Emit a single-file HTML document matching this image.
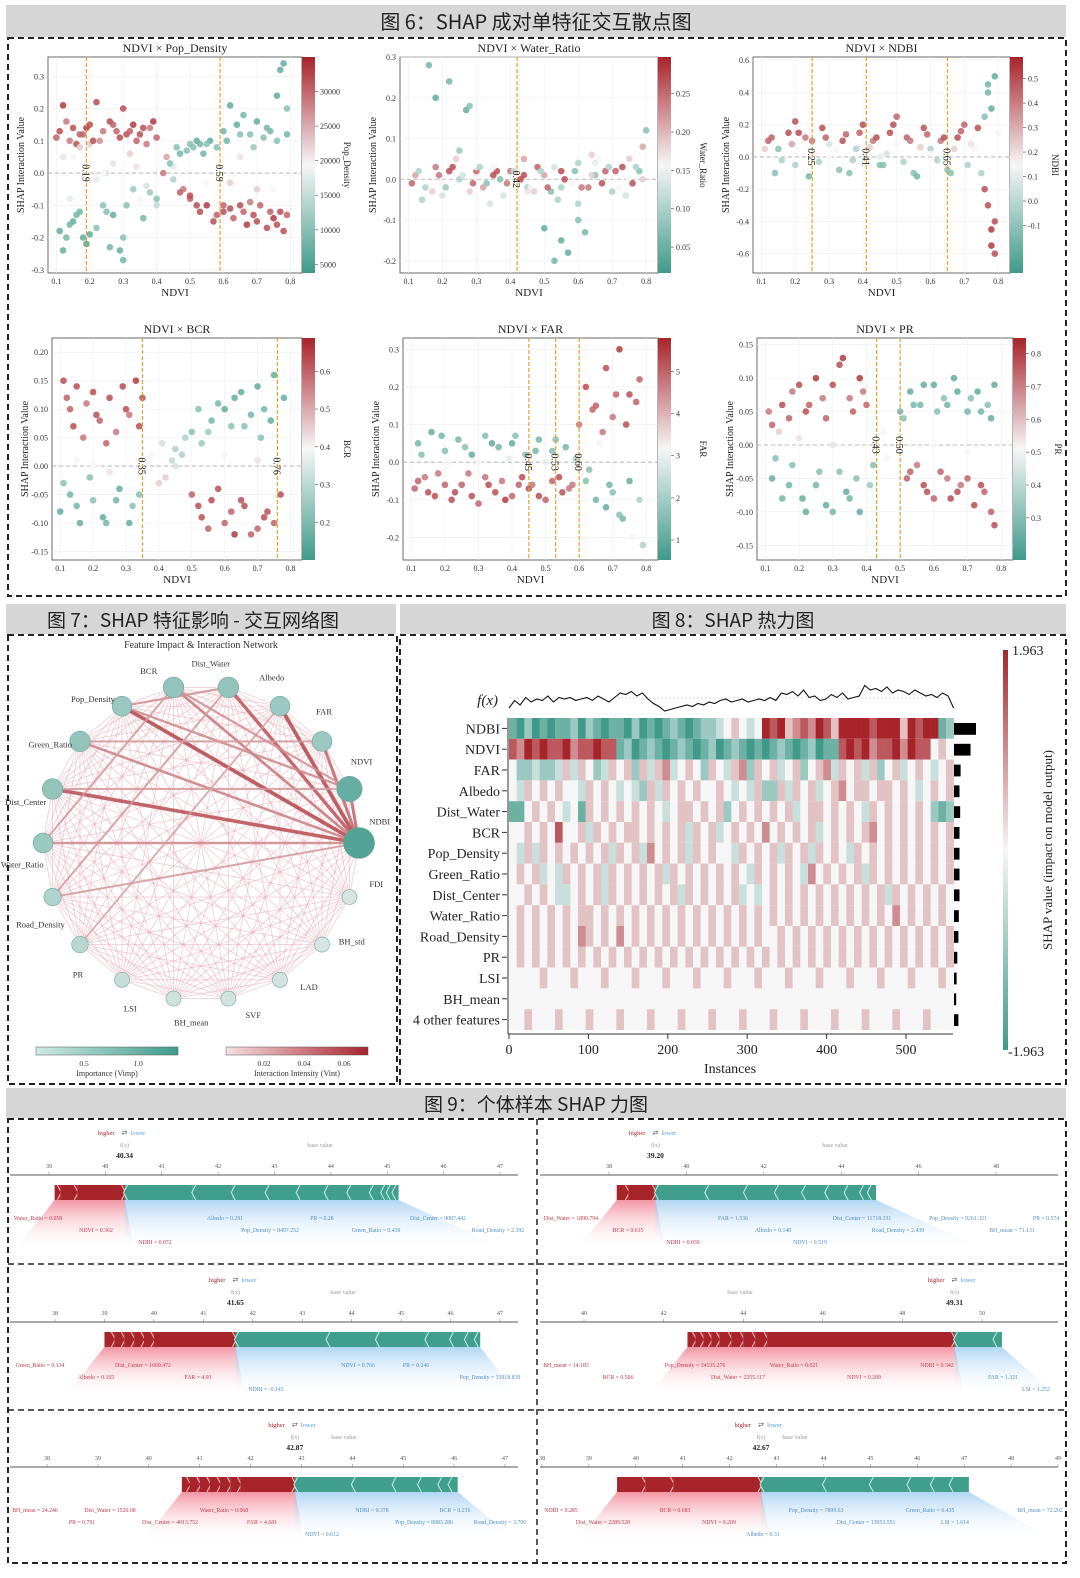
<!DOCTYPE html>
<html><head><meta charset="utf-8">
<style>
html,body{margin:0;padding:0;background:#fff;}
svg{display:block;font-family:"Liberation Serif",serif;}
.cjk{font-family:"Noto Sans CJK SC",sans-serif;}
</style></head>
<body>
<svg id="root" width="1080" height="1578" viewBox="0 0 1080 1578" xmlns="http://www.w3.org/2000/svg">
<defs>
<linearGradient id="cbg" x1="0" y1="1" x2="0" y2="0"><stop offset="0" stop-color="#3f9a8a"/><stop offset="0.5" stop-color="#f6f6f6"/><stop offset="1" stop-color="#a8242b"/></linearGradient>
<linearGradient id="tealLeg" x1="0" x2="1"><stop offset="0" stop-color="#cfe9e3"/><stop offset="1" stop-color="#3f9a8a"/></linearGradient>
<linearGradient id="redLeg" x1="0" x2="1"><stop offset="0" stop-color="#f6dfe2"/><stop offset="1" stop-color="#a8242b"/></linearGradient>
<linearGradient id="fanRed" x1="0" y1="0" x2="0" y2="1"><stop offset="0" stop-color="#f07a8c" stop-opacity="0.8"/><stop offset="1" stop-color="#fff" stop-opacity="0"/></linearGradient>
<linearGradient id="fanBlue" x1="0" y1="0" x2="0" y2="1"><stop offset="0" stop-color="#8ec4ee" stop-opacity="0.7"/><stop offset="1" stop-color="#fff" stop-opacity="0"/></linearGradient>
</defs>
<rect x="6" y="5" width="1060" height="32" fill="#d6d6d6"/>
<text class="cjk" x="536" y="29" font-size="20" text-anchor="middle" fill="#222">图 6：SHAP 成对单特征交互散点图</text>
<rect x="8" y="38" width="1058" height="558" fill="none" stroke="#222" stroke-width="2" stroke-dasharray="6,4"/>
<rect x="6" y="604" width="390" height="30" fill="#d6d6d6"/>
<text class="cjk" x="193" y="627" font-size="19" text-anchor="middle" fill="#222">图 7：SHAP 特征影响 - 交互网络图</text>
<rect x="8" y="635" width="389" height="449" fill="none" stroke="#222" stroke-width="2" stroke-dasharray="6,4"/>
<rect x="400" y="604" width="666" height="30" fill="#d6d6d6"/>
<text class="cjk" x="733" y="627" font-size="19" text-anchor="middle" fill="#222">图 8：SHAP 热力图</text>
<rect x="400" y="635" width="666" height="449" fill="none" stroke="#222" stroke-width="2" stroke-dasharray="6,4"/>
<rect x="6" y="1088" width="1060" height="30" fill="#d6d6d6"/>
<text class="cjk" x="536" y="1111" font-size="19" text-anchor="middle" fill="#222">图 9：个体样本 SHAP 力图</text>
<rect x="8" y="1119" width="1058" height="444" fill="none" stroke="#222" stroke-width="2" stroke-dasharray="6,4"/>
<line x1="537" y1="1119" x2="537" y2="1563" stroke="#222" stroke-width="1.5" stroke-dasharray="6,4"/>
<line x1="8" y1="1264" x2="1066" y2="1264" stroke="#222" stroke-width="1.5" stroke-dasharray="6,4"/>
<line x1="8" y1="1410" x2="1066" y2="1410" stroke="#222" stroke-width="1.5" stroke-dasharray="6,4"/>
<g id="g6"></g><g id="g7"></g><g id="g8"></g><g id="g9"></g>
</svg>
<script>
// ===== Fig 6 data =====
const p1x=[.11,.12,.14,.15,.17,.19,.2,.22,.23,.26,.28,.3,.31,.33,.34,.36,.37,.39,.11,.12,.13,.15,.17,.18,.19,.22,.24,.27,.29,.3,.33,.36,.42,.43,.45,.46,.48,.5,.52,.54,.56,.6,.62,.64,.66,.68,.7,.72,.74,.76,.77,.78,.79,.5,.53,.55,.57,.6,.63,.65,.67,.69,.71,.73,.75,.77,.78,.15,.25,.35,.45,.55,.65,.75,.2,.4,
 .1,.13,.16,.18,.21,.24,.27,.29,.32,.35,.38,.4,.12,.17,.22,.27,.32,.37,.14,.24,.34,.14,.2,.25,.31,.38,.4,.58,.61,.65,.69,.73,.76,.79,.55,.52,.58,.62,.66,.7,.74,.76,.79,.68,.6,.44,.47,.49,.51,.53,.47,.5,.7,.62,.3,.26,.16];
const p1y=[.13,.21,.1,.14,.12,.14,.15,.22,.1,.16,.13,.2,.12,.15,.1,.14,.09,.16,-.18,-.24,-.2,-.15,-.12,-.2,-.22,-.17,-.1,-.13,-.24,-.27,-.05,-.14,0,.05,-.02,.08,-.05,.09,.1,.06,.1,.13,.21,.15,.18,.12,.16,.11,.13,.24,.32,.34,.2,-.08,-.12,-.1,-.15,-.12,-.14,-.1,-.16,-.13,-.1,-.17,-.14,-.12,-.18,.05,0,-.08,.02,-.03,.05,-.05,.09,-.1,
 .11,.16,.09,.12,.1,.13,.15,.11,.13,.12,.14,.11,.05,.08,-.02,.03,.06,-.04,-.08,0,.02,-.16,-.19,-.12,-.1,-.06,-.08,.08,.1,.12,.08,.14,.1,.12,.09,-.1,-.13,-.11,-.12,-.15,-.12,-.16,-.13,-.09,-.1,.03,.06,.07,.08,.09,-.06,-.07,-.05,-.03,-.2,-.23,-.13];
const p1c=[.9,.95,.8,.9,.85,.95,.9,.9,.75,.9,.85,.9,.9,.95,.85,.9,.8,.95,.1,.1,.15,.1,.15,.1,.05,.2,.2,.1,.1,.15,.25,.15,.8,.7,.3,.2,.8,.2,.1,.15,.1,.15,.1,.1,.15,.2,.1,.2,.15,.1,.1,.1,.2,.85,.9,.95,.9,.9,.85,.9,.95,.9,.85,.9,.95,.9,.9,.5,.55,.5,.45,.5,.55,.5,.6,.35,
 .85,.8,.9,.85,.9,.8,.85,.9,.85,.9,.8,.85,.55,.6,.45,.55,.6,.4,.45,.5,.55,.15,.1,.2,.2,.25,.2,.2,.15,.2,.25,.15,.2,.15,.2,.9,.85,.9,.85,.9,.85,.9,.85,.8,.85,.2,.15,.2,.2,.15,.85,.9,.6,.6,.2,.15,.15];
const p2x=[.12,.15,.18,.2,.22,.25,.28,.3,.33,.35,.38,.4,.43,.45,.48,.5,.52,.55,.58,.6,.63,.65,.68,.7,.73,.75,.78,.8,.16,.18,.22,.27,.28,.5,.53,.55,.57,.6,.62,.14,.24,.34,.44,.54,.64,.74,.3,.46,.66,.79,
 .11,.13,.17,.19,.21,.23,.26,.29,.31,.32,.36,.37,.39,.41,.44,.47,.49,.51,.53,.56,.59,.61,.64,.67,.69,.71,.72,.76,.77,.79,.2,.35,.45,.55,.65,.75,.25,.6];
const p2y=[.01,-.02,.03,-.01,.02,0,-.03,.02,-.01,.01,-.04,.02,0,-.02,.03,.01,-.03,.02,-.01,.04,-.02,.01,.02,-.03,.03,0,.02,.12,.28,.2,.24,.17,.18,-.12,-.2,-.15,-.18,-.1,-.13,-.05,.05,-.06,.05,-.05,.06,-.04,.03,-.02,.05,.08,
 -.01,.02,-.03,.01,-.02,.03,.01,-.01,.03,-.02,.02,0,-.01,.02,.01,-.03,.02,-.02,.03,0,.02,-.02,.01,-.01,.03,.02,-.02,-.01,.03,.0,-.04,.03,-.03,-.02,.04,.05,.07,-.06];
const p2c=[.7,.3,.8,.5,.9,.3,.6,.85,.2,.9,.4,.8,.9,.3,.85,.7,.2,.9,.5,.3,.8,.2,.85,.3,.9,.5,.2,.2,.15,.1,.15,.1,.2,.1,.15,.1,.1,.2,.15,.3,.6,.4,.7,.3,.6,.4,.5,.5,.5,.7,
 .85,.3,.6,.8,.25,.9,.4,.85,.3,.7,.9,.2,.8,.35,.9,.6,.3,.85,.4,.9,.2,.8,.6,.9,.3,.85,.5,.9,.3,.6,.4,.5,.55,.3,.45,.6,.25,.3];
const p3x=[.12,.15,.18,.2,.23,.26,.28,.3,.33,.35,.38,.4,.43,.45,.48,.5,.53,.55,.58,.6,.63,.65,.68,.7,.73,.75,.77,.78,.79,.78,.77,.79,.76,.8,.14,.24,.36,.46,.56,.66,.2,.5,
 .11,.13,.16,.19,.21,.25,.27,.29,.32,.34,.37,.39,.42,.44,.47,.49,.52,.54,.57,.59,.62,.64,.67,.69,.71,.74,.76,.78,.77,.79,.3,.45,.6,.72];
const p3y=[.1,.05,.15,-.05,.12,.02,.18,.08,-.08,.14,.05,.2,.1,-.05,.15,.08,.12,-.1,.18,.05,.1,-.08,.12,.2,.05,-.1,-.3,-.45,-.6,.3,.4,.5,.25,.15,-.1,-.12,-.1,-.05,-.12,-.1,.22,.25,
 .05,.12,-.02,.08,.15,.1,-.03,.12,.04,.1,-.02,.15,.06,.12,.02,.2,-.03,.1,.06,.14,-.02,.12,.05,.16,-.05,.18,-.2,-.55,.45,-.4,.0,.0,.02,.08];
const p3c=[.85,.2,.9,.3,.8,.5,.9,.4,.2,.85,.3,.9,.8,.2,.9,.5,.85,.2,.9,.3,.8,.2,.9,.85,.5,.3,.9,.95,.9,.1,.15,.1,.2,.5,.2,.15,.2,.2,.15,.2,.9,.85,
 .6,.85,.3,.7,.9,.8,.3,.85,.5,.9,.3,.85,.6,.9,.4,.9,.3,.8,.6,.85,.3,.9,.6,.85,.3,.9,.9,.95,.15,.9,.5,.45,.5,.55];
const p4x=[.11,.13,.15,.17,.2,.22,.25,.27,.3,.33,.35,.1,.13,.16,.2,.24,.28,.32,.38,.42,.45,.48,.5,.53,.56,.6,.63,.66,.7,.72,.75,.78,.5,.53,.56,.6,.63,.66,.7,.73,.77,.4,.45,.2,.6,.7,
 .12,.14,.18,.21,.24,.29,.31,.34,.11,.15,.19,.23,.27,.31,.34,.37,.41,.44,.47,.52,.55,.58,.62,.65,.68,.71,.74,.52,.55,.58,.62,.65,.68,.72,.75,.15,.25];
const p4y=[.15,.1,.14,.05,.13,.08,.12,.06,.1,.15,.12,-.08,-.05,-.1,-.06,-.1,-.04,-.07,.02,-.02,.03,.05,.06,.04,.08,.1,.12,.07,.14,.1,.16,.12,-.05,-.09,-.06,-.1,-.12,-.07,-.11,-.08,-.05,-.03,0,0,.02,.01,
 .12,.07,.11,.09,.04,.14,.09,.07,-.03,-.07,-.02,-.09,-.06,-.1,-.05,.01,.04,.01,.02,.1,.06,.11,.07,.13,.09,.05,.08,-.07,-.11,-.04,-.08,-.06,-.12,-.09,-.1,.01,-.01];
const p4c=[.9,.85,.9,.8,.9,.85,.9,.8,.9,.95,.9,.1,.15,.1,.2,.15,.1,.2,.5,.6,.3,.3,.2,.25,.15,.1,.1,.2,.1,.15,.1,.1,.85,.9,.9,.85,.95,.9,.85,.9,.9,.6,.4,.5,.5,.55,
 .85,.9,.8,.9,.85,.9,.8,.9,.2,.15,.2,.1,.15,.1,.2,.5,.4,.35,.3,.2,.25,.15,.2,.1,.15,.2,.1,.9,.85,.9,.85,.9,.85,.9,.85,.5,.55];
const p5x=[.12,.15,.18,.22,.25,.28,.32,.35,.38,.42,.45,.48,.52,.55,.58,.12,.16,.2,.24,.28,.32,.36,.4,.44,.48,.52,.56,.6,.62,.65,.68,.7,.72,.75,.78,.62,.65,.68,.7,.73,.76,.78,.3,.5,.66,
 .11,.14,.17,.2,.23,.27,.3,.33,.37,.4,.43,.46,.5,.54,.57,.13,.19,.26,.34,.41,.47,.53,.59,.64,.67,.71,.74,.77,.63,.69,.72,.75,.79,.21,.39];
const p5y=[-.05,-.08,-.03,-.1,-.06,-.09,-.04,-.08,-.1,-.06,-.07,-.09,-.05,-.08,-.06,.05,.08,.03,.06,.02,.07,.04,.05,.02,.06,.03,.04,.1,.2,.15,.25,.12,.3,.18,.22,-.05,-.1,-.12,-.08,-.15,-.2,-.1,0,0,.05,
 -.07,-.04,-.09,-.06,-.08,-.03,-.11,-.06,-.05,-.09,-.04,-.06,-.1,-.04,-.07,.02,.07,.04,.05,.07,.03,.06,.01,.14,.08,.18,.1,.16,-.02,-.06,-.14,-.05,-.22,.0,.01];
const p5c=[.85,.9,.8,.9,.85,.9,.8,.9,.95,.85,.9,.9,.85,.9,.8,.15,.1,.2,.15,.1,.2,.15,.1,.2,.15,.2,.15,.8,.9,.85,.9,.8,.95,.9,.85,.2,.15,.1,.2,.15,.5,.3,.5,.45,.5,
 .85,.8,.9,.85,.9,.8,.85,.9,.8,.85,.9,.8,.85,.9,.8,.2,.15,.2,.1,.2,.15,.2,.3,.85,.8,.85,.9,.85,.2,.15,.2,.1,.3,.5,.45];
const p6x=[.12,.15,.18,.22,.25,.28,.32,.35,.38,.4,.12,.15,.18,.22,.25,.28,.32,.35,.38,.42,.5,.53,.56,.6,.63,.66,.7,.73,.76,.78,.52,.55,.58,.62,.65,.68,.72,.75,.78,.45,.3,.6,
 .11,.14,.17,.2,.23,.27,.3,.33,.36,.39,.13,.17,.21,.26,.3,.34,.37,.41,.51,.54,.57,.61,.64,.67,.71,.74,.77,.53,.57,.6,.64,.67,.7,.74,.77,.46,.2,.7];
const p6y=[.03,.06,.08,.05,.1,.04,.12,.07,.1,.06,-.05,-.08,-.03,-.1,-.06,-.09,-.04,-.08,-.1,-.03,.05,.08,.06,.09,.07,.1,.05,.08,.06,.09,-.05,-.03,-.07,-.04,-.08,-.06,-.09,-.07,-.12,.02,0,0,
 .05,.02,.04,.09,.06,.07,.09,.13,.05,.08,-.02,-.06,-.08,-.04,-.1,-.07,-.05,-.06,.04,.06,.09,.05,.06,.08,.07,.05,.04,-.04,-.06,-.08,-.05,-.07,-.05,-.06,-.1,-.02,.01,-.01];
const p6c=[.85,.9,.8,.9,.95,.85,.9,.8,.95,.85,.1,.15,.2,.1,.15,.1,.2,.15,.1,.2,.15,.1,.15,.1,.2,.1,.15,.1,.2,.1,.85,.8,.9,.85,.9,.8,.9,.85,.9,.5,.55,.5,
 .8,.6,.85,.9,.85,.8,.9,.95,.85,.8,.2,.15,.1,.2,.15,.1,.2,.25,.2,.15,.1,.2,.15,.1,.2,.15,.1,.85,.9,.85,.8,.9,.85,.9,.85,.5,.55,.5];

// ===== Fig 7 data =====
const netNodes=["BCR","Dist_Water","Albedo","FAR","NDVI","NDBI","FDI","BH_std","LAD","SVF","BH_mean","LSI","PR","Road_Density","Water_Ratio","Dist_Center","Green_Ratio","Pop_Density"];
const netImp=[0.55,0.55,0.5,0.5,0.85,1.2,0.1,0.1,0.12,0.12,0.15,0.2,0.3,0.35,0.5,0.55,0.55,0.5];
const strongEdges=[["NDBI","Pop_Density",0.8],["NDBI","Dist_Center",0.75],["NDBI","Albedo",0.8],["NDBI","FAR",0.6],["NDBI","Dist_Water",0.7],["NDBI","NDVI",0.6],["NDBI","BCR",0.5],["NDBI","Green_Ratio",0.45],["NDBI","Water_Ratio",0.4],["NDVI","Pop_Density",0.4],["NDVI","Dist_Center",0.3],["Pop_Density","Dist_Water",0.35],["BCR","Water_Ratio",0.3],["Dist_Water","Road_Density",0.3],["Albedo","PR",0.25],["NDBI","Road_Density",0.3],["FAR","Green_Ratio",0.3],["NDVI","BCR",0.35]];

// ===== Fig 8 data =====
const hmFeatures=["NDBI","NDVI","FAR","Albedo","Dist_Water","BCR","Pop_Density","Green_Ratio","Dist_Center","Water_Ratio","Road_Density","PR","LSI","BH_mean","4 other features"];
const hmRows=[
"1020101120210110201012101223454348785676875888878885878812",
"7687877867787712012101210120121010121012011787867786877454",
"4223223535423545253563454254356254534524563545352453454345",
"4354545443545434325354545445434352253545345645545545434545",
"1145454341545454545434554545245454545345545454354545454212",
"4454547445354545545454535453454546454545345454564545454545",
"4353545454545354536454535454435454535453545435454545454545",
"4545343545453545454535454545454354545436454545354545454545",
"4454543345453545454545354545453434545454545454545354545454",
"4545454545545454545454545454545454545454545454545464545454",
"4545454546545464545454545454545454454545454545454545454545",
"4545454545454545454545454545454545454545454545454545454545",
"4444544454445444544454445444544454445444544454445444544454",
"4444444444444444444444444444444444444444444444444444444444",
"4454445444544454445444544454445444544454445444544454445444"];
const hmImportance=[1,0.75,0.3,0.25,0.28,0.25,0.25,0.25,0.25,0.22,0.2,0.15,0.12,0.1,0.2];
const fxVals=[0.2,0.45,0.3,0.55,0.4,0.5,0.45,0.6,0.4,0.55,0.5,0.55,0.45,0.5,0.55,0.45,0.6,0.5,0.4,0.55,0.7,0.65,0.75,0.6,0.7,0.5,0.35,0.25,0.1,0.15,0.2,0.25,0.3,0.25,0.35,0.3,0.4,0.35,0.45,0.5,0.4,0.45,0.5,0.4,0.45,0.5,0.45,0.55,0.45,0.7,0.65,0.75,0.6,0.8,0.55,0.6,0.45,0.5,0.65,0.55,0.7,0.5,0.55,0.6,0.95,0.8,0.85,0.75,0.9,0.7,0.8,0.75,0.65,0.8,0.7,0.6,0.65,0.55,0.7,0.6,0.2];
const hmTicks=[0,100,200,300,400,500];

// ===== Fig 9 data =====
const fpTicks1=[39,40,41,42,43,44,45,46,47], fpRed1=[39.1,39.2,39.5,40.34], fpTeal1=[40.34,41.55,42.25,42.85,43.4,43.9,44.3,44.7,44.9,45.0,45.1,45.2], fpVal1=40.34;
const fpTicks2=[38,40,42,44,46,48], fpRed2=[38.2,38.5,39.2], fpTeal2=[39.2,40.5,41.5,42.3,43,43.6,44.1,44.5,44.7,44.9], fpVal2=39.20;
const fpTicks3=[38,39,40,41,42,43,44,45,46,47], fpRed3=[39,39.2,39.4,39.6,39.8,40,41.65], fpTeal3=[41.65,43.5,44.5,45.5,46,46.3,46.5,46.6], fpVal3=41.65;
const fpTicks4=[40,42,44,46,48,50], fpRed4=[42.6,42.8,43,43.2,43.4,43.7,44,44.3,44.6,49.31], fpTeal4=[49.31,50.3,50.5], fpVal4=49.31;
const fpTicks5=[38,39,40,41,42,43,44,45,46,47], fpRed5=[40.65,40.8,41,41.2,41.4,41.6,41.8,42.87], fpTeal5=[42.87,44,44.8,45.3,45.7,45.9,46.07], fpVal5=42.87;
const fpTicks6=[38,39,40,41,42,43,44,45,46,47,48,49], fpRed6=[39.6,40.2,40.8,42.67], fpTeal6=[42.67,44,45,45.8,46.3,46.7,47.1], fpVal6=42.67;

const NS="http://www.w3.org/2000/svg";
function mk(parent,tag,attrs,txt){const e=document.createElementNS(NS,tag);for(const k in attrs)e.setAttribute(k,attrs[k]);if(txt!==undefined)e.textContent=txt;parent.appendChild(e);return e;}
function lerp(a,b,t){return a+(b-a)*t;}
function divColor(t){
  const T=[63,154,138],W=[246,246,246],R=[168,36,43];
  let a,b,u; if(t<0.5){a=T;b=W;u=t/0.5;}else{a=W;b=R;u=(t-0.5)/0.5;}
  return `rgb(${Math.round(lerp(a[0],b[0],u))},${Math.round(lerp(a[1],b[1],u))},${Math.round(lerp(a[2],b[2],u))})`;
}

// ===== Fig 6 =====
const g6=document.getElementById('g6');
function scatter(o){
  const g=mk(g6,'g',{});
  
  
  const X=v=>o.ox+(v-0.075)/(0.835-0.075)*o.w;
  const Y=v=>o.oy+o.h-(v-o.yd[0])/(o.yd[1]-o.yd[0])*o.h;
  mk(g,'rect',{x:o.ox,y:o.oy,width:o.w,height:o.h,fill:'#fff',stroke:'#444','stroke-width':0.8});
  [.1,.2,.3,.4,.5,.6,.7,.8].forEach(v=>{mk(g,'line',{x1:X(v),x2:X(v),y1:o.oy,y2:o.oy+o.h,stroke:'#eee','stroke-width':0.6});
    const t=mk(g,'text',{x:X(v),y:o.oy+o.h+11,'font-size':8,'text-anchor':'middle',fill:'#333'},String(v));
    });
  o.yt.forEach(v=>{mk(g,'line',{x1:o.ox,x2:o.ox+o.w,y1:Y(v),y2:Y(v),stroke:'#eee','stroke-width':0.6});
    const t=mk(g,'text',{x:o.ox-4,y:Y(v)+3,'font-size':8,'text-anchor':'end',fill:'#333'},o.ytl(v));
    });
  mk(g,'line',{x1:o.ox,x2:o.ox+o.w,y1:Y(0),y2:Y(0),stroke:'#aaa','stroke-width':0.8,'stroke-dasharray':'4,3'});
  o.px.forEach((xv,i)=>{const c=mk(g,'circle',{cx:X(xv),cy:Y(o.py[i]),r:3.3,fill:divColor(o.pc[i]),'fill-opacity':0.85});
    });
  o.vl.forEach(v=>{const l=mk(g,'line',{x1:X(v),x2:X(v),y1:o.oy,y2:o.oy+o.h,stroke:'#e3a12f','stroke-width':1.2,'stroke-dasharray':'4,2'});
    
    const t=mk(g,'text',{x:0,y:0,'font-size':10,'text-anchor':'middle',fill:'#222',transform:`translate(${X(v)-4},${Y(0)}) rotate(90)`},v.toFixed(2));
    });
  const tt=mk(g,'text',{x:o.ox+o.w/2,y:o.oy-5,'font-size':12,'text-anchor':'middle',fill:'#222'},o.title);
  
  const xl=mk(g,'text',{x:o.ox+o.w/2,y:o.oy+o.h+23,'font-size':11,'text-anchor':'middle',fill:'#222'},'NDVI');
  
  const yl=mk(g,'text',{x:0,y:0,'font-size':10,'text-anchor':'middle',fill:'#222',transform:`translate(${o.ox-24},${o.oy+o.h/2}) rotate(-90)`},'SHAP Interaction Value');
  
  const cb=mk(g,'rect',{x:o.ox+o.w,y:o.oy,width:13,height:o.h,fill:'url(#cbg)'});
  
  o.cbt.forEach((lab,i)=>{const yy=o.oy+o.h-(o.cbp[i])*o.h;
    mk(g,'line',{x1:o.ox+o.w+13,x2:o.ox+o.w+16,y1:yy,y2:yy,stroke:'#444','stroke-width':0.6});
    const t=mk(g,'text',{x:o.ox+o.w+18,y:yy+3,'font-size':8,fill:'#333'},lab);
    });
  const cl=mk(g,'text',{x:0,y:0,'font-size':9,'text-anchor':'middle',fill:'#222',transform:`translate(${o.ox+o.w+42},${o.oy+o.h/2}) rotate(90)`},o.cbl);
  
}
const even=(n,a,b)=>Array.from({length:n},(_,i)=>a+(b-a)*i/(n-1));
scatter({key:'pop-density',title:'NDVI × Pop_Density',ox:48,oy:57,w:254,h:216,yd:[-0.31,0.36],yt:[-0.3,-0.2,-0.1,0,0.1,0.2,0.3],ytl:v=>v.toFixed(1),px:p1x,py:p1y,pc:p1c,vl:[0.19,0.59],cbt:['5000','10000','15000','20000','25000','30000'],cbp:even(6,0.04,0.84),cbl:'Pop_Density'});
scatter({key:'water-ratio',title:'NDVI × Water_Ratio',ox:400,oy:57,w:258,h:216,yd:[-0.23,0.3],yt:[-0.2,-0.1,0,0.1,0.2,0.3],ytl:v=>v.toFixed(1),px:p2x,py:p2y,pc:p2c,vl:[0.42],cbt:['0.05','0.10','0.15','0.20','0.25'],cbp:even(5,0.12,0.83),cbl:'Water_Ratio'});
scatter({key:'ndbi',title:'NDVI × NDBI',ox:753,oy:57,w:257,h:216,yd:[-0.72,0.62],yt:[-0.6,-0.4,-0.2,0,0.2,0.4,0.6],ytl:v=>v.toFixed(1),px:p3x,py:p3y,pc:p3c,vl:[0.25,0.41,0.65],cbt:['-0.1','0.0','0.1','0.2','0.3','0.4','0.5'],cbp:even(7,0.22,0.9),cbl:'NDBI'});
scatter({key:'bcr',title:'NDVI × BCR',ox:52,oy:338,w:250,h:222,yd:[-0.165,0.225],yt:[-0.15,-0.1,-0.05,0,0.05,0.1,0.15,0.2],ytl:v=>v.toFixed(2),px:p4x,py:p4y,pc:p4c,vl:[0.35,0.76],cbt:['0.2','0.3','0.4','0.5','0.6'],cbp:even(5,0.17,0.85),cbl:'BCR'});
scatter({key:'far',title:'NDVI × FAR',ox:403,oy:338,w:255,h:222,yd:[-0.26,0.33],yt:[-0.2,-0.1,0,0.1,0.2,0.3],ytl:v=>v.toFixed(1),px:p5x,py:p5y,pc:p5c,vl:[0.45,0.53,0.60],cbt:['1','2','3','4','5'],cbp:even(5,0.09,0.85),cbl:'FAR'});
scatter({key:'pr',title:'NDVI × PR',ox:757,oy:338,w:256,h:222,yd:[-0.172,0.16],yt:[-0.15,-0.1,-0.05,0,0.05,0.1,0.15],ytl:v=>v.toFixed(2),px:p6x,py:p6y,pc:p6c,vl:[0.43,0.50],cbt:['0.3','0.4','0.5','0.6','0.7','0.8'],cbp:even(6,0.19,0.93),cbl:'PR'});

// ===== Fig 7 network =====
const g7=document.getElementById('g7');
const cx=201,cy=843,R=158;
const pos={};
netNodes.forEach((n,i)=>{const a=(-100+20*i)*Math.PI/180;pos[n]=[cx+R*Math.cos(a),cy+R*Math.sin(a),a];});
const nt=mk(g7,'text',{x:201,y:648,'font-size':10,'text-anchor':'middle',fill:'#333'},'Feature Impact & Interaction Network');

for(let i=0;i<netNodes.length;i++)for(let j=i+1;j<netNodes.length;j++){
  const a=pos[netNodes[i]],b=pos[netNodes[j]];
  const l=mk(g7,'line',{x1:a[0],y1:a[1],x2:b[0],y2:b[1],stroke:'#e6aab2','stroke-width':0.9,'stroke-opacity':0.55});
  }
strongEdges.forEach(e=>{const a=pos[e[0]],b=pos[e[1]];
  const l=mk(g7,'line',{x1:a[0],y1:a[1],x2:b[0],y2:b[1],stroke:divColor(0.6+0.4*e[2]),'stroke-width':1+3.5*e[2],'stroke-opacity':0.85});
  });
netNodes.forEach((n,i)=>{const p=pos[n],imp=netImp[i];
  const c=mk(g7,'circle',{cx:p[0],cy:p[1],r:6+8*Math.max(0,imp-0.2)+1.5,fill:divColor(0.45-0.4*Math.min(imp,1)),stroke:'#6aa99b','stroke-width':0.6});
  
  const lx=cx+(R+22)*Math.cos(p[2]-0.12),ly=cy+(R+22)*Math.sin(p[2]-0.12);
  const t=mk(g7,'text',{x:lx,y:ly+3,'font-size':8.5,'text-anchor':'middle',fill:'#333'},n);
  });
[[36,'url(#tealLeg)',['0.5','1.0'],[84,138],'Importance (Vimp)','importance-legend'],[226,'url(#redLeg)',['0.02','0.04','0.06'],[264,304,344],'Interaction Intensity (Vint)','intensity-legend']].forEach(L=>{
  const r=mk(g7,'rect',{x:L[0],y:1047,width:142,height:8,fill:L[1],stroke:'#555','stroke-width':0.5});
  
  L[2].forEach((s,k)=>mk(g7,'text',{x:L[3][k],y:1066,'font-size':7.5,'text-anchor':'middle',fill:'#333'},s));
  mk(g7,'text',{x:L[0]+71,y:1076,'font-size':8,'text-anchor':'middle',fill:'#333'},L[4]);});

// ===== Fig 8 heatmap =====
const g8=document.getElementById('g8');
const hx0=509,hxPer=0.794,hy0=718,rowH=20.8,N=560;
const HX=v=>hx0+v*hxPer;
hmRows.forEach((s,r)=>{const seg=N/s.length;
  for(let k=0;k<s.length;k++){const d=+s[k];
    const rc=mk(g8,'rect',{x:HX(k*seg),y:hy0+r*rowH,width:seg*hxPer+0.3,height:rowH,fill:divColor(d/8)});
    }
  const t=mk(g8,'text',{x:500,y:hy0+r*rowH+rowH/2+5,'font-size':14,'text-anchor':'end',fill:'#222'},hmFeatures[r]);
  
  mk(g8,'line',{x1:502,x2:507,y1:hy0+r*rowH+rowH/2,y2:hy0+r*rowH+rowH/2,stroke:'#333'});
  const b=mk(g8,'rect',{x:954,y:hy0+r*rowH+5,width:22*hmImportance[r],height:rowH-9,fill:'#000'});
  });
mk(g8,'line',{x1:508,x2:508,y1:hy0,y2:hy0+15*rowH+4,stroke:'#333'});
mk(g8,'line',{x1:508,x2:953,y1:hy0+15*rowH+4,y2:hy0+15*rowH+4,stroke:'#333'});
hmTicks.forEach(v=>{mk(g8,'line',{x1:HX(v),x2:HX(v),y1:hy0+15*rowH+4,y2:hy0+15*rowH+9,stroke:'#333'});
  const t=mk(g8,'text',{x:HX(v),y:1054,'font-size':14,'text-anchor':'middle',fill:'#222'},String(v));
  });
const it=mk(g8,'text',{x:730,y:1073,'font-size':14,'text-anchor':'middle',fill:'#222'},'Instances');

mk(g8,'line',{x1:509,x2:953,y1:698,y2:698,stroke:'#ccc','stroke-width':0.8,'stroke-dasharray':'2,2'});
let dstr='';fxVals.forEach((v,i)=>{const x=HX(i*N/(fxVals.length-1)),y=714-v*30;dstr+=(i?'L':'M')+x.toFixed(1)+','+y.toFixed(1);});
const fl=mk(g8,'path',{d:dstr,fill:'none',stroke:'#111','stroke-width':1.1});

const fxl=mk(g8,'text',{x:498,y:705,'font-size':15,'text-anchor':'end','font-style':'italic',fill:'#222'},'f(x)');

const hcb=mk(g8,'rect',{x:1003,y:650,width:5,height:400,fill:'url(#cbg)'});

mk(g8,'text',{x:1012,y:655,'font-size':14,fill:'#222'},'1.963');
mk(g8,'text',{x:1008,y:1056,'font-size':14,fill:'#222'},'-1.963');
const ct=mk(g8,'text',{x:0,y:0,'font-size':13,'text-anchor':'middle',fill:'#222',transform:'translate(1052,850) rotate(-90)'},'SHAP value (impact on model output)');


// ===== Fig 9 force plots =====
const g9=document.getElementById('g9');
function force(o){
  const g=mk(g9,'g',{});
  
  
  const X=v=>o.x0+(v-o.ticks[0])/(o.ticks[o.ticks.length-1]-o.ticks[0])*(o.x1-o.x0);
  mk(g,'line',{x1:o.ax0,x2:o.ax1,y1:o.ay,y2:o.ay,stroke:'#555','stroke-width':1});
  o.ticks.forEach(v=>{mk(g,'line',{x1:X(v),x2:X(v),y1:o.ay-3,y2:o.ay,stroke:'#777','stroke-width':0.5});
    mk(g,'text',{x:X(v),y:o.ay-7,'font-size':6,'text-anchor':'middle',fill:'#555'},String(v));});
  const by=o.ay+10,bh=15;
  const rL=X(o.red[0]),tR=X(o.teal[o.teal.length-1]),fx=X(o.val);
  mk(g,'polygon',{points:`${rL},${by+bh} ${fx},${by+bh} ${fx+10},${by+bh+50} ${Math.max(o.ax0,rL-40)},${by+bh+50}`,fill:'url(#fanRed)'});
  mk(g,'polygon',{points:`${fx},${by+bh} ${tR},${by+bh} ${Math.min(o.ax1,tR+110)},${by+bh+50} ${fx},${by+bh+50}`,fill:'url(#fanBlue)'});
  for(let i=0;i<o.red.length-1;i++){const r=mk(g,'rect',{x:X(o.red[i]),y:by,width:X(o.red[i+1])-X(o.red[i]),height:bh,fill:'#a8242b'});
    
    mk(g,'path',{d:`M${X(o.red[i+1])-3},${by} L${X(o.red[i+1])+1},${by+bh/2} L${X(o.red[i+1])-3},${by+bh}`,fill:'none',stroke:'#f5c6cc','stroke-width':1});}
  for(let i=0;i<o.teal.length-1;i++){const r=mk(g,'rect',{x:X(o.teal[i]),y:by,width:X(o.teal[i+1])-X(o.teal[i]),height:bh,fill:'#3f9e8c'});
    
    mk(g,'path',{d:`M${X(o.teal[i])+3},${by} L${X(o.teal[i])-1},${by+bh/2} L${X(o.teal[i])+3},${by+bh}`,fill:'none',stroke:'#bfeee4','stroke-width':1});}
  mk(g,'text',{x:fx-10,y:o.ay-40,'font-size':6.5,'text-anchor':'end',fill:'#a8242b'},'higher');
  mk(g,'text',{x:fx-3,y:o.ay-40,'font-size':7,fill:'#555'},'⇄');
  mk(g,'text',{x:fx+6,y:o.ay-40,'font-size':6.5,fill:'#4a9fd8'},'lower');
  mk(g,'text',{x:fx,y:o.ay-28,'font-size':6,'text-anchor':'middle',fill:'#999'},'f(x)');
  const vt=mk(g,'text',{x:fx,y:o.ay-17,'font-size':7.5,'font-weight':'bold','text-anchor':'middle',fill:'#222'},o.val.toFixed(2));
  
  mk(g,'text',{x:o.bx,y:o.ay-28,'font-size':6,'text-anchor':'middle',fill:'#999'},'base value');
  o.labels.forEach(L=>{const t=mk(g,'text',{x:L[1],y:by+bh+L[2],'font-size':5.8,'text-anchor':'middle',fill:L[3]?'#c0394b':'#4f8fc0'},L[0]);
    });
}
force({key:'1',ticks:fpTicks1,red:fpRed1,teal:fpTeal1,val:fpVal1,x0:49,x1:500,ax0:10,ax1:518,ay:1175,bx:320,labels:[['Water_Ratio = 0.058',38,20,1],['NDVI = 0.362',96,32,1],['NDBI = 0.072',155,44,1],['Albedo = 0.291',225,20,0],['Pop_Density = 8497.252',270,32,0],['PR = 0.28',322,20,0],['Green_Ratio = 0.439',376,32,0],['Dist_Center = 9087.442',438,20,0],['Road_Density = 2.392',498,32,0]]});
force({key:'2',ticks:fpTicks2,red:fpRed2,teal:fpTeal2,val:fpVal2,x0:609,x1:996,ax0:540,ax1:1058,ay:1175,bx:835,labels:[['Dist_Water = 1890.794',571,20,1],['BCR = 0.615',628,32,1],['NDBI = 0.039',683,44,1],['FAR = 1.536',733,20,0],['Albedo = 0.148',773,32,0],['NDVI = 0.519',810,44,0],['Dist_Center = 11718.331',862,20,0],['Road_Density = 2.439',898,32,0],['Pop_Density = 9261.321',958,20,0],['BH_mean = 71.131',1012,32,0],['PR = 0.574',1046,20,0]]});
force({key:'3',ticks:fpTicks3,red:fpRed3,teal:fpTeal3,val:fpVal3,x0:55,x1:500,ax0:10,ax1:518,ay:1322,bx:343,labels:[['Green_Ratio = 0.134',40,20,1],['Albedo = 0.165',96,32,1],['Dist_Center = 1660.472',143,20,1],['FAR = 4.93',198,32,1],['NDBI = -0.143',266,44,0],['NDVI = 0.766',358,20,0],['PR = 0.246',416,20,0],['Pop_Density = 31918.839',490,32,0]]});
force({key:'4',ticks:fpTicks4,red:fpRed4,teal:fpTeal4,val:fpVal4,x0:584,x1:982,ax0:540,ax1:1058,ay:1322,bx:740,labels:[['BH_mean = 14.183',566,20,1],['BCR = 0.506',618,32,1],['Pop_Density = 34135.276',695,20,1],['Dist_Water = 2255.117',738,32,1],['Water_Ratio = 0.021',794,20,1],['NDVI = 0.209',864,32,1],['NDBI = 0.342',937,20,1],['FAR = 1.321',1003,32,0],['LSI = 1.252',1036,44,0]]});
force({key:'5',ticks:fpTicks5,red:fpRed5,teal:fpTeal5,val:fpVal5,x0:47,x1:505,ax0:10,ax1:518,ay:1467,bx:344,labels:[['BH_mean = 24.246',35,20,1],['PR = 0.791',82,32,1],['Dist_Water = 1520.08',110,20,1],['Dist_Center = 4013.752',170,32,1],['Water_Ratio = 0.068',224,20,1],['FAR = 4.681',262,32,1],['NDVI = 0.612',322,44,0],['NDBI = 0.378',372,20,0],['Pop_Density = 8083.286',424,32,0],['BCR = 0.216',455,20,0],['Road_Density = 3.706',500,32,0]]});
force({key:'6',ticks:fpTicks6,red:fpRed6,teal:fpTeal6,val:fpVal6,x0:542,x1:1058,ax0:540,ax1:1058,ay:1467,bx:795,labels:[['NDBI = 0.285',561,20,1],['Dist_Water = 2289.528',603,32,1],['BCR = 0.683',675,20,1],['NDVI = 0.209',719,32,1],['Albedo = 0.31',763,44,0],['Pop_Density = 7899.63',816,20,0],['Dist_Center = 13953.551',866,32,0],['Green_Ratio = 0.435',930,20,0],['LSI = 1.614',955,32,0],['BH_mean = 72.202',1040,20,0]]});
</script>
</body></html>
